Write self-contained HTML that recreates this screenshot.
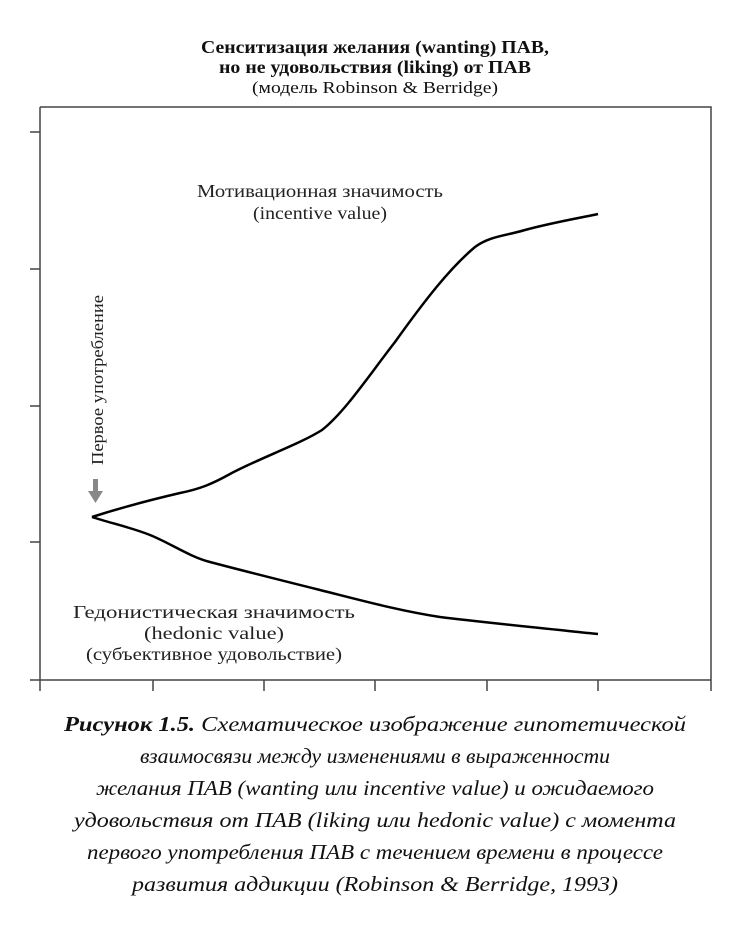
<!DOCTYPE html>
<html><head><meta charset="utf-8"><style>
html,body{margin:0;padding:0;background:#fff;}
svg{display:block;font-family:"Liberation Serif","DejaVu Serif",serif;}
</style></head><body>
<svg width="750" height="926" viewBox="0 0 750 926" xmlns="http://www.w3.org/2000/svg">
<g text-anchor="middle" fill="#111">
<text x="375" y="53" font-size="18" font-weight="bold" textLength="348" lengthAdjust="spacingAndGlyphs">Сенситизация желания (wanting) ПАВ,</text>
<text x="375" y="73" font-size="18" font-weight="bold" textLength="312" lengthAdjust="spacingAndGlyphs">но не удовольствия (liking) от ПАВ</text>
<text x="375" y="93" font-size="17" textLength="246" lengthAdjust="spacingAndGlyphs">(модель Robinson &amp; Berridge)</text>
</g>
<g stroke="#444" stroke-width="1.5" fill="none">
<path d="M40 107 H711 V680"/>
<path d="M40 107 V680"/>
<path d="M30 680 H711"/>
<path d="M30 132 H40 M30 269 H40 M30 406 H40 M30 542 H40"/>
<path d="M40 680 V691 M153 680 V691 M264 680 V691 M375 680 V691 M487 680 V691 M598 680 V691 M711 680 V691"/>
</g>
<g stroke="#000" stroke-width="2.5" fill="none" stroke-linejoin="round">
<path d="M92 517 C120 508,150 500,180 493 C200 489,212 484,230 474 C260 458,300 444,322 430 C345 412,370 374,395 342 C425 300,450 268,475 247 C490 236,505 236,525 230 C555 222,580 218,598 214"/>
<path d="M92 517 C110 523,130 527,150 535 C170 543,190 557,210 562 C240 570,280 580,320 590 C360 600,400 611,440 617 C480 622,540 628,598 634"/>
</g>
<g fill="#888"><rect x="93" y="479" width="5" height="14"/><polygon points="88,491 103,491 95.5,503"/></g>
<text transform="translate(103,465) rotate(-90)" font-size="17" fill="#222" textLength="170" lengthAdjust="spacingAndGlyphs">Первое употребление</text>
<g text-anchor="middle" fill="#222" font-size="18">
<text x="320" y="197" textLength="246" lengthAdjust="spacingAndGlyphs">Мотивационная значимость</text>
<text x="320" y="219" textLength="134" lengthAdjust="spacingAndGlyphs">(incentive value)</text>
<text x="214" y="618" textLength="282" lengthAdjust="spacingAndGlyphs">Гедонистическая значимость</text>
<text x="214" y="639" textLength="140" lengthAdjust="spacingAndGlyphs">(hedonic value)</text>
<text x="214" y="660" textLength="256" lengthAdjust="spacingAndGlyphs">(субъективное удовольствие)</text>
</g>
<g text-anchor="middle" fill="#111" font-size="21" font-style="italic">
<text x="375" y="731" textLength="622" lengthAdjust="spacingAndGlyphs"><tspan font-weight="bold">Рисунок 1.5.</tspan> Схематическое изображение гипотетической</text>
<text x="375" y="763" textLength="470" lengthAdjust="spacingAndGlyphs">взаимосвязи между изменениями в выраженности</text>
<text x="375" y="795" textLength="558" lengthAdjust="spacingAndGlyphs">желания ПАВ (wanting или incentive value) и ожидаемого</text>
<text x="375" y="827" textLength="602" lengthAdjust="spacingAndGlyphs">удовольствия от ПАВ (liking или hedonic value) с момента</text>
<text x="375" y="859" textLength="576" lengthAdjust="spacingAndGlyphs">первого употребления ПАВ с течением времени в процессе</text>
<text x="375" y="891" textLength="486" lengthAdjust="spacingAndGlyphs">развития аддикции (Robinson &amp; Berridge, 1993)</text>
</g>
</svg>
</body></html>
